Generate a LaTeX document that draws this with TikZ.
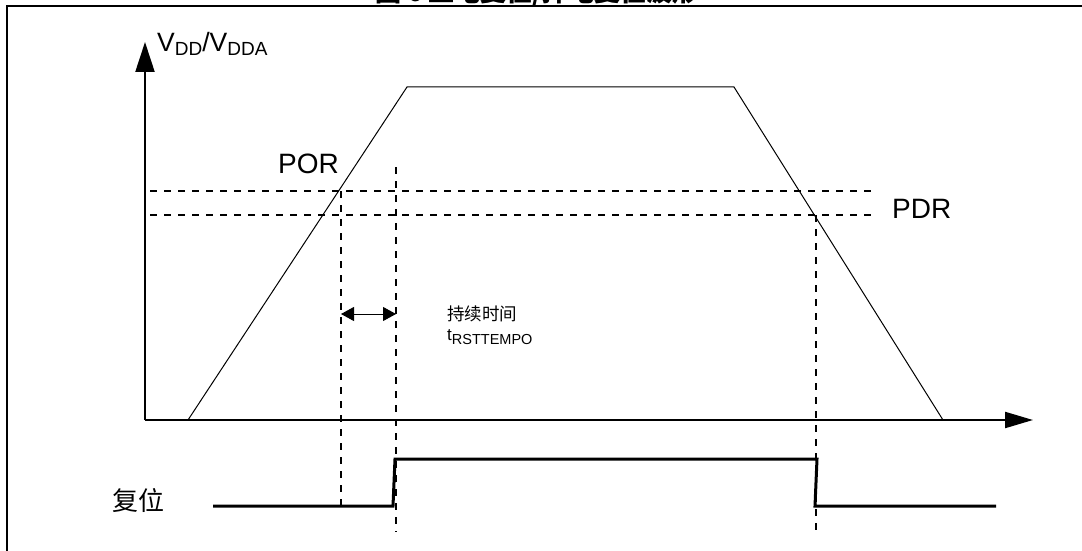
\documentclass[tikz,border=0pt]{standalone}
\usepackage{fontspec}
\setmainfont{Liberation Sans}
\newfontfamily\cjk{Noto Sans CJK SC}
\usetikzlibrary{arrows.meta}
\begin{document}
\begin{tikzpicture}[x=1pt,y=-1pt,
  frame/.style={line width=2pt},
  axis/.style={line width=2.2pt},
  wave/.style={line width=1pt},
  guide/.style={line width=2pt, dash pattern=on 7pt off 7pt},
  sig/.style={line width=3pt},
  lbl/.style={inner sep=0pt, font=\fontsize{28}{28}\selectfont},
]
\useasboundingbox (0,0) rectangle (1082,551);
% frame
\coordinate (fbl) at (7,551);
\coordinate (ftl) at (7,6);
\coordinate (ftr) at (1082,6);
\draw[frame] (fbl) -- (ftl) -- (ftr);
\node[anchor=base, inner sep=0pt, font=\cjk\bfseries\fontsize{26}{26}\selectfont] (title) at (537,2) {图 6 上电复位/掉电复位波形};
% axes
\coordinate (O) at (145,420);
\coordinate (ytip) at (145,42);
\coordinate (xtip) at (1033,420);
\draw[axis,-{Triangle[length=30pt,width=19pt]}] (O) -- (ytip);
\draw[axis,-{Triangle[length=28pt,width=16pt]}] (O) -- (xtip);
% supply waveform
\coordinate (w1) at (188,420);
\coordinate (w2) at (407,87);
\coordinate (w3) at (734,87);
\coordinate (w4) at (943,420);
\draw[wave] (w1) -- (w2) -- (w3) -- (w4);
% thresholds
\coordinate (por1) at (150,191);
\coordinate (por2) at (877,191);
\coordinate (pdr1) at (150,215);
\coordinate (pdr2) at (877,215);
\draw[guide] (por1) -- (por2);
\draw[guide] (pdr1) -- (pdr2);
% vertical guides
\coordinate (v1t) at (341,191);
\coordinate (v1b) at (341,506);
\coordinate (v2t) at (396,167);
\coordinate (v2b) at (396,532);
\coordinate (v3t) at (816,215);
\coordinate (v3b) at (816,535);
\draw[guide] (v1t) -- (v1b);
\draw[guide] (v2t) -- (v2b);
\draw[guide] (v3t) -- (v3b);
% duration arrow
\coordinate (d1) at (341,314);
\coordinate (d2) at (396,314);
\draw[line width=1pt,{Triangle[length=13pt,width=14pt]}-{Triangle[length=13pt,width=14pt]}] (d1) -- (d2);
% reset signal
\coordinate (r0) at (213,506);
\coordinate (r1) at (393,506);
\coordinate (r2) at (395,459);
\coordinate (r3) at (817,459);
\coordinate (r4) at (815,506);
\coordinate (r5) at (996,506);
\draw[sig] (r0) -- (r1) -- (r2) -- (r3) -- (r4) -- (r5);
% labels
\node[anchor=base west, inner sep=0pt, font=\fontsize{26.5}{26.5}\selectfont] (vdd) at (157,52)
  {V\raisebox{-4pt}{\fontsize{19}{19}\selectfont DD}/V\raisebox{-4pt}{\fontsize{19}{19}\selectfont DDA}};
\node[lbl, anchor=base west] (por) at (278,173) {POR};
\node[lbl, anchor=base west] (pdr) at (892,218) {PDR};
\node[anchor=base west, inner sep=0pt, font=\cjk\fontsize{17.5}{17.5}\selectfont] (dur) at (447,320) {持续时间};
\node[anchor=base west, inner sep=0pt, font=\fontsize{17}{17}\selectfont] (trst) at (447,340)
  {t\raisebox{-4pt}{\fontsize{14.5}{14.5}\selectfont RSTTEMPO}};
\node[anchor=base east, inner sep=0pt, font=\cjk\fontsize{26}{26}\selectfont] (rst) at (165,510) {复位};
\end{tikzpicture}
\end{document}
